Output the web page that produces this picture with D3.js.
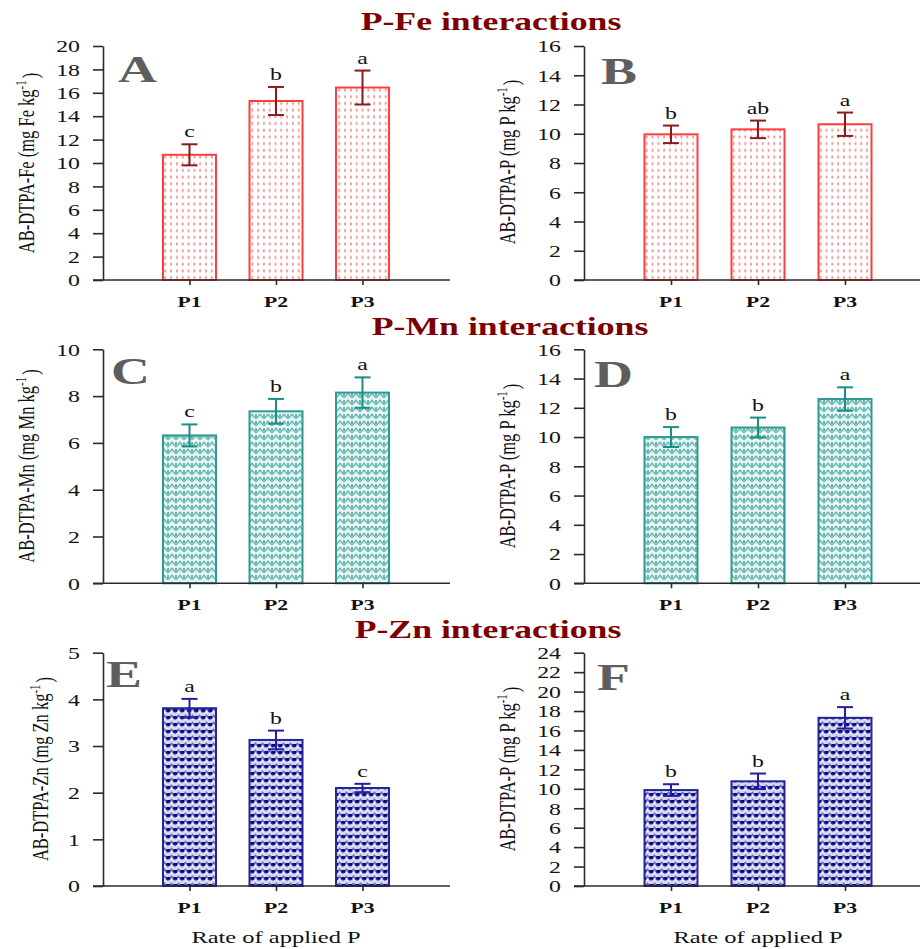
<!DOCTYPE html>
<html>
<head>
<meta charset="utf-8">
<script src="https://cdn.jsdelivr.net/npm/d3@7/dist/d3.min.js"></script>
<style>
  html, body { margin: 0; padding: 0; background: #fff; }
  svg { display: block; }
  svg text { font-family: "Times New Roman", "Liberation Serif", Tinos, "DejaVu Serif", "Noto Serif", serif; }
</style>
</head>
<body>
<div id="chart"></div>
<script>
// ---------------- DATA ----------------
const categories = ["P1", "P2", "P3"];

const feValues = [10.7, 15.3, 16.45];
const feErrors = [0.9, 1.2, 1.45];
const feLetters = ["c", "b", "a"];
const feTicks = [0, 2, 4, 6, 8, 10, 12, 14, 16, 18, 20];

const pFeValues = [9.96, 10.3, 10.65];
const pFeErrors = [0.6, 0.6, 0.8];
const pFeLetters = ["b", "ab", "a"];
const pFeTicks = [0, 2, 4, 6, 8, 10, 12, 14, 16];

const mnValues = [6.32, 7.35, 8.15];
const mnErrors = [0.47, 0.53, 0.65];
const mnLetters = ["c", "b", "a"];
const mnTicks = [0, 2, 4, 6, 8, 10];

const pMnValues = [10.0, 10.65, 12.6];
const pMnErrors = [0.68, 0.68, 0.8];
const pMnLetters = ["b", "b", "a"];
const pMnTicks = [0, 2, 4, 6, 8, 10, 12, 14, 16];

const znValues = [3.81, 3.13, 2.1];
const znErrors = [0.2, 0.2, 0.09];
const znLetters = ["a", "b", "c"];
const znTicks = [0, 1, 2, 3, 4, 5];

const pZnValues = [9.87, 10.77, 17.3];
const pZnErrors = [0.6, 0.8, 1.1];
const pZnLetters = ["b", "b", "a"];
const pZnTicks = [0, 2, 4, 6, 8, 10, 12, 14, 16, 18, 20, 22, 24];

const sectionTitles = ["P-Fe interactions", "P-Mn interactions", "P-Zn interactions"];
const panelLetters = ["A", "B", "C", "D", "E", "F"];
const yLabels = [
  ["AB-DTPA-Fe (mg Fe kg", "-1", ")"],
  ["AB-DTPA-P (mg P kg", "-1", ")"],
  ["AB-DTPA-Mn (mg Mn kg", "-1", ")"],
  ["AB-DTPA-P (mg P kg", "-1", ")"],
  ["AB-DTPA-Zn (mg Zn kg", "-1", ")"],
  ["AB-DTPA-P (mg P kg", "-1", ")"]
];
const xTitle = "Rate of applied P";

// ---------------- LAYOUT / STYLE ----------------
const W = 920, H = 949;
const S = 1.4; // horizontal stretch of all lettering
const FONT = '"Times New Roman", "Liberation Serif", Tinos, "DejaVu Serif", "Noto Serif", serif';

const svg = d3.select("#chart").append("svg")
  .attr("width", W).attr("height", H).attr("viewBox", `0 0 ${W} ${H}`)
  .attr("font-family", FONT);

const defs = svg.append("defs");
// red dotted pattern
const pr = defs.append("pattern").attr("id", "patRed").attr("patternUnits", "userSpaceOnUse")
  .attr("width", 5.8).attr("height", 6.7);
pr.append("rect").attr("width", 5.8).attr("height", 6.7).attr("fill", "#fff");
pr.append("rect").attr("x", 2).attr("y", 1.5).attr("width", 1.8).attr("height", 2.8).attr("fill", "#f59090");
// teal knit pattern
const pt = defs.append("pattern").attr("id", "patTeal").attr("patternUnits", "userSpaceOnUse")
  .attr("width", 8).attr("height", 7);
pt.append("rect").attr("width", 8).attr("height", 7).attr("fill", "#f2faf9");
pt.append("path").attr("d", "M0,6 L4,1.2 L8,6").attr("fill", "none").attr("stroke", "#6cbdb6").attr("stroke-width", 1.5);
pt.append("path").attr("d", "M0,1 L0,4 M8,1 L8,4").attr("stroke", "#2f9891").attr("stroke-width", 1.4);
pt.append("path").attr("d", "M4,3 L4,5").attr("stroke", "#b5e0dc").attr("stroke-width", 1.2);
// navy pattern
const pn = defs.append("pattern").attr("id", "patNavy").attr("patternUnits", "userSpaceOnUse")
  .attr("width", 7).attr("height", 7);
pn.append("rect").attr("width", 7).attr("height", 7).attr("fill", "#d6d6f0");
pn.append("path").attr("d", "M0,5.5 L3.5,1.5 L7,5.5").attr("fill", "none").attr("stroke", "#6a6abc").attr("stroke-width", 1.6);
pn.append("rect").attr("x", 0).attr("y", 2).attr("width", 2.2).attr("height", 2.8).attr("fill", "#0a0a80");
pn.append("rect").attr("x", 5.3).attr("y", 2).attr("width", 1.7).attr("height", 2.8).attr("fill", "#0a0a80");
pn.append("rect").attr("x", 3).attr("y", 4.5).attr("width", 1.2).attr("height", 1.5).attr("fill", "#ffffff");

const themes = {
  red:  { fill: "url(#patRed)",  stroke: "#ff3d3d", err: "#8b1a1a" },
  teal: { fill: "url(#patTeal)", stroke: "#2f9a92", err: "#1c8c85" },
  navy: { fill: "url(#patNavy)", stroke: "#24249a", err: "#1f1fa0" }
};

const rows = [
  { yTop: 46,    yBot: 280,  title: { x: 491, y: 30 } },
  { yTop: 349.3, yBot: 583.3, title: { x: 510, y: 335 } },
  { yTop: 652.7, yBot: 886,  title: { x: 488, y: 638 } }
];
const cols = [
  { axisX: 103, xRange: [103, 449], xEnd: 450 },
  { axisX: 584, xRange: [584, 932], xEnd: 920 }
];

const panels = [
  { row: 0, col: 0, values: feValues,  errors: feErrors,  letters: feLetters,  ticks: feTicks,  theme: "red",
    lab: { x: 34, y: 163 }, letter: { x: 118, y: 82 } },
  { row: 0, col: 1, values: pFeValues, errors: pFeErrors, letters: pFeLetters, ticks: pFeTicks, theme: "red",
    lab: { x: 515, y: 162 }, letter: { x: 601, y: 84 } },
  { row: 1, col: 0, values: mnValues,  errors: mnErrors,  letters: mnLetters,  ticks: mnTicks,  theme: "teal",
    lab: { x: 34, y: 466 }, letter: { x: 111, y: 384 } },
  { row: 1, col: 1, values: pMnValues, errors: pMnErrors, letters: pMnLetters, ticks: pMnTicks, theme: "teal",
    lab: { x: 515, y: 466 }, letter: { x: 594, y: 387 } },
  { row: 2, col: 0, values: znValues,  errors: znErrors,  letters: znLetters,  ticks: znTicks,  theme: "navy",
    lab: { x: 48, y: 769 }, letter: { x: 106, y: 687 } },
  { row: 2, col: 1, values: pZnValues, errors: pZnErrors, letters: pZnLetters, ticks: pZnTicks, theme: "navy",
    lab: { x: 515, y: 769 }, letter: { x: 597, y: 690 } }
];

function stretchedText(parent, x, y, str, anchor) {
  return parent.append("text")
    .attr("transform", `translate(${x},${y}) scale(${S},1)`)
    .attr("text-anchor", anchor || "middle")
    .attr("font-family", FONT)
    .text(str);
}

// section titles
rows.forEach((r, i) => {
  stretchedText(svg, r.title.x, r.title.y, sectionTitles[i])
    .attr("font-size", 25.5).attr("font-weight", "bold").attr("fill", "#7d0000");
});

panels.forEach((p, idx) => {
  const r = rows[p.row], c = cols[p.col], th = themes[p.theme];
  const g = svg.append("g");
  const yMax = p.ticks[p.ticks.length - 1];
  const y = d3.scaleLinear().domain([0, yMax]).range([r.yBot, r.yTop]);
  const x = d3.scalePoint().domain(categories).range(c.xRange).padding(1);
  const bw = 53;

  // bars
  g.selectAll("rect.bar").data(categories).join("rect")
    .attr("class", "bar")
    .attr("x", d => x(d) - bw / 2)
    .attr("width", bw)
    .attr("y", (d, i) => y(p.values[i]))
    .attr("height", (d, i) => y(0) - y(p.values[i]))
    .attr("fill", th.fill)
    .attr("stroke", th.stroke)
    .attr("stroke-width", 2);

  // error bars
  const eb = g.selectAll("g.err").data(categories).join("g").attr("class", "err")
    .attr("stroke", th.err).attr("stroke-width", 2).attr("fill", "none");
  eb.append("line")
    .attr("x1", d => x(d)).attr("x2", d => x(d))
    .attr("y1", (d, i) => y(p.values[i] + p.errors[i]))
    .attr("y2", (d, i) => y(p.values[i] - p.errors[i]));
  eb.append("line")
    .attr("x1", d => x(d) - 8).attr("x2", d => x(d) + 8)
    .attr("y1", (d, i) => y(p.values[i] + p.errors[i]))
    .attr("y2", (d, i) => y(p.values[i] + p.errors[i]));
  eb.append("line")
    .attr("x1", d => x(d) - 8).attr("x2", d => x(d) + 8)
    .attr("y1", (d, i) => y(p.values[i] - p.errors[i]))
    .attr("y2", (d, i) => y(p.values[i] - p.errors[i]));

  // significance letters
  categories.forEach((cat, i) => {
    stretchedText(g, x(cat), y(p.values[i] + p.errors[i]) - 7, p.letters[i])
      .attr("font-size", 17).attr("fill", "#111");
  });

  // y axis
  const ya = g.append("g").attr("transform", `translate(${c.axisX},0)`)
    .call(d3.axisLeft(y).tickValues(p.ticks).tickSize(10).tickSizeOuter(0).tickFormat(d3.format("d")));
  ya.attr("font-family", FONT);
  ya.select(".domain").attr("stroke", "#2a2a2a").attr("stroke-width", 1.6);
  ya.selectAll(".tick line").attr("stroke", "#2a2a2a").attr("stroke-width", 1.6);
  ya.selectAll(".tick text")
    .attr("x", -23 / S).attr("dy", "0.34em")
    .attr("transform", `scale(${S},1)`)
    .attr("font-family", FONT).attr("font-size", 17).attr("fill", "#111");

  // x axis
  const xa = g.append("g").attr("transform", `translate(0,${r.yBot})`)
    .call(d3.axisBottom(x).tickSize(5).tickSizeOuter(0).tickFormat(() => ""));
  xa.select(".domain").remove();
  xa.selectAll(".tick line").attr("stroke", "#2a2a2a").attr("stroke-width", 1.6);
  g.append("line")
    .attr("x1", c.axisX - 10).attr("x2", c.xEnd)
    .attr("y1", r.yBot).attr("y2", r.yBot)
    .attr("stroke", "#2a2a2a").attr("stroke-width", 1.6);
  categories.forEach(cat => {
    stretchedText(g, x(cat), r.yBot + 27, cat)
      .attr("font-size", 15.5).attr("font-weight", "bold").attr("fill", "#111");
  });

  // y label (rotated)
  const lt = g.append("text")
    .attr("transform", `translate(${p.lab.x},${p.lab.y}) scale(${S},1) rotate(-90)`)
    .attr("text-anchor", "middle")
    .attr("font-family", FONT)
    .attr("font-size", 16.5).attr("fill", "#111");
  const parts = yLabels[idx];
  lt.append("tspan").text(parts[0]);
  lt.append("tspan").attr("dy", "-0.55em").attr("font-size", 11).text(parts[1]);
  lt.append("tspan").attr("dy", "0.55em").attr("dx", 2).text(parts[2]);

  // panel letter
  stretchedText(g, p.letter.x, p.letter.y, panelLetters[idx], "start")
    .attr("font-size", 38.5).attr("font-weight", "bold").attr("fill", "#5e5e5e");

  // x title on bottom row
  if (p.row === 2) {
    stretchedText(g, x(categories[1]), 943, xTitle)
      .attr("font-size", 17.5).attr("fill", "#111");
  }
});
</script>
</body>
</html>
